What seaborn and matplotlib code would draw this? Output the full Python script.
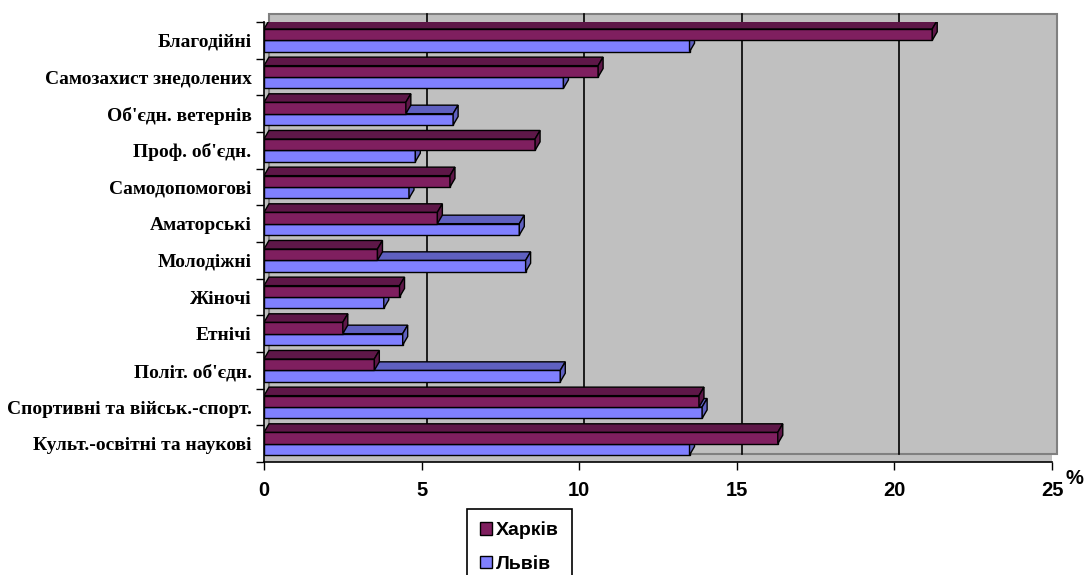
import numpy as np
import pandas as pd
import matplotlib.pyplot as plt
import matplotlib.transforms as mtransforms
from matplotlib.patches import Polygon, Rectangle, Patch
import seaborn as sns

# Дані (відсотки організацій за типом)
categories = ['Благодійні', 'Самозахист знедолених', "Об'єдн. ветернів", "Проф. об'єдн.",
              'Самодопомогові', 'Аматорські', 'Молодіжні', 'Жіночі', 'Етнічі',
              "Політ. об'єдн.", 'Спортивні та військ.-спорт.', 'Культ.-освітні та наукові']
kharkiv = [21.2, 10.6, 4.5, 8.6, 5.9, 5.5, 3.6, 4.3, 2.5, 3.5, 13.8, 16.3]
lviv = [13.5, 9.5, 6.0, 4.8, 4.6, 8.1, 8.3, 3.8, 4.4, 9.4, 13.9, 13.5]
cities = ['Харків', 'Львів']
xticks = [0, 5, 10, 15, 20, 25]

df = pd.DataFrame({
    'Категорія': categories * 2,
    'Місто': [cities[0]] * len(categories) + [cities[1]] * len(categories),
    'Відсоток': kharkiv + lviv,
})

front = {'Харків': '#7f1f5f', 'Львів': '#8080ff'}
shade = {'Харків': '#5e1748', 'Львів': '#5f60c0'}

fig = plt.figure(figsize=(10.84, 5.75), dpi=100)
ax = fig.add_axes([264 / 1084, 1 - 462 / 575, 788 / 1084, 440 / 575])
ax.set_facecolor('#c0c0c0')

sns.barplot(data=df, y='Категорія', x='Відсоток', hue='Місто', hue_order=cities,
            palette=front, orient='h', width=0.62, gap=0, saturation=1,
            edgecolor='black', linewidth=1, legend=False, ax=ax)

ax.set_xlim(xticks[0], xticks[-1])
ax.set_ylim(len(categories) - 0.5, -0.5)

# -------------------------------
# "3D" look: back wall, gridlines, bar depth
# -------------------------------
depth = mtransforms.ScaledTranslation(5 / 100, 8 / 100, fig.dpi_scale_trans)
wall = Rectangle((0, 0), 1, 1, transform=ax.transAxes + depth, facecolor='#c0c0c0',
                 edgecolor='#808080', lw=1.5, zorder=0, clip_on=False)
ax.add_patch(wall)

blend = mtransforms.blended_transform_factory(ax.transData, ax.transAxes) + depth
for v in xticks[1:-1]:
    ax.plot([v, v], [0, 1], transform=blend, color='black', lw=1.2, zorder=1, clip_on=False)

dx = 5 * (xticks[-1] - xticks[0]) / ax.bbox.width
dy = 8.5 * len(categories) / ax.bbox.height

for cont, city, z in zip(ax.containers, cities, [3, 2]):
    for bar in cont:
        bar.set_zorder(z)
        x0, x1 = bar.get_x(), bar.get_x() + bar.get_width()
        yt, yb = bar.get_y(), bar.get_y() + bar.get_height()
        top = Polygon([(x0, yt), (x1, yt), (x1 + dx, yt - dy), (x0 + dx, yt - dy)],
                      closed=True, facecolor=shade[city], edgecolor='black', lw=1, zorder=z + 0.1)
        side = Polygon([(x1, yt), (x1 + dx, yt - dy), (x1 + dx, yb - dy), (x1, yb)],
                       closed=True, facecolor=shade[city], edgecolor='black', lw=1, zorder=z + 0.1)
        ax.add_patch(top)
        ax.add_patch(side)

ax.set_xlim(xticks[0], xticks[-1])
ax.set_ylim(len(categories) - 0.5, -0.5)

# -------------------------------
# Axes, ticks, labels
# -------------------------------
ax.set_xlabel('')
ax.set_ylabel('')
ax.set_xticks(xticks)
ax.set_xticklabels([str(t) for t in xticks])
ax.set_yticks(np.arange(-0.5, len(categories), 1), minor=True)
ax.tick_params(axis='y', which='major', length=0, pad=9)
ax.tick_params(axis='y', which='minor', length=6, width=1, color='black')
ax.tick_params(axis='x', length=6, width=1, pad=8, color='black')
for lab in ax.get_yticklabels():
    lab.set_fontfamily('Liberation Serif')
    lab.set_fontweight('bold')
    lab.set_fontsize(14)
for lab in ax.get_xticklabels():
    lab.set_fontfamily('Liberation Sans')
    lab.set_fontweight('bold')
    lab.set_fontsize(14.5)

for s in ['top', 'right']:
    ax.spines[s].set_visible(False)
for s in ['left', 'bottom']:
    ax.spines[s].set_color('black')
    ax.spines[s].set_linewidth(1.2)
    ax.spines[s].set_zorder(5)

fig.text(1074 / 1084, 1 - 478 / 575, '%', ha='center', va='center',
         fontfamily='Liberation Sans', fontweight='bold', fontsize=14.5)

handles = [Patch(facecolor=front[c], edgecolor='black', label=c) for c in cities]
leg = ax.legend(handles=handles, loc='upper left', bbox_to_anchor=(467 / 1084, 1 - 509 / 575),
                bbox_transform=fig.transFigure, frameon=True, fancybox=False, edgecolor='black',
                framealpha=1, prop=dict(family='Liberation Sans', weight='bold', size=14),
                handlelength=0.65, handleheight=0.6, handletextpad=0.2, labelspacing=0.85,
                borderpad=0.65, borderaxespad=0)
leg.get_frame().set_linewidth(1.2)

fig.savefig('out.png', dpi=100)
plt.close()
